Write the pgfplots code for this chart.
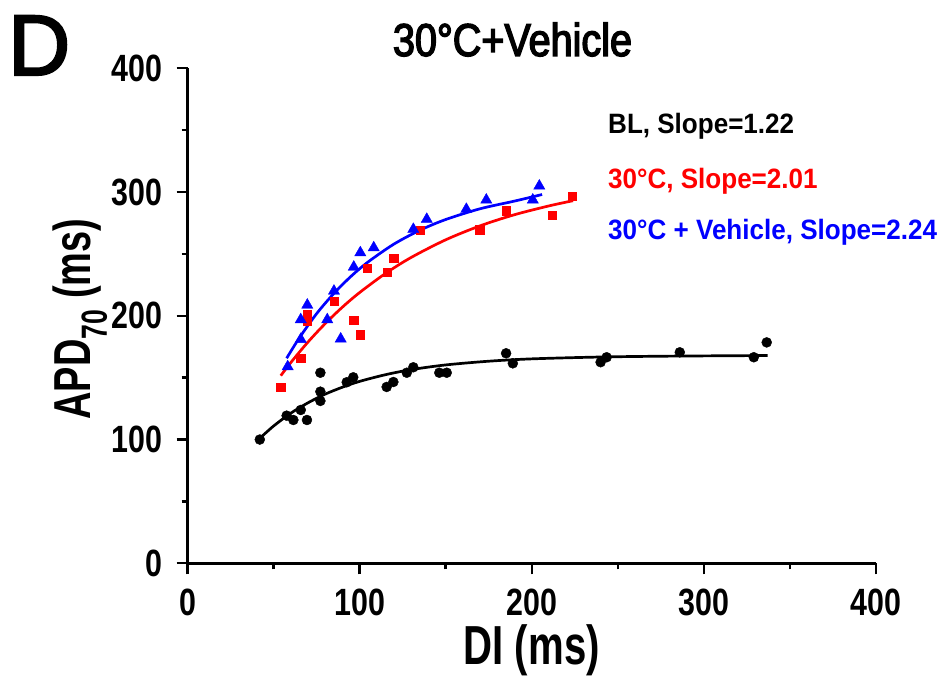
\documentclass[border=0pt]{standalone}
\usepackage{pgfplots}
\pgfplotsset{compat=1.18}
\usepackage{fontspec}
\setmainfont{Liberation Sans}
\newfontfamily\tickfont[FakeStretch=0.8]{Liberation Sans Bold}
\newfontfamily\labfont[FakeStretch=0.73]{Liberation Sans Bold}
\newfontfamily\titfont[FakeStretch=0.86, FakeBold=3]{Liberation Sans}
\newfontfamily\legfont[FakeStretch=0.93]{Liberation Sans Bold}
\newfontfamily\panfont[FakeBold=2.5]{Liberation Sans}
\begin{document}
\begin{tikzpicture}
\path[use as bounding box] (0,0) rectangle (944pt,676pt);
\begin{axis}[
  at={(187.5pt,112.7pt)}, anchor=south west,
  scale only axis, width=688.5pt, height=495pt,
  xmin=0, xmax=400, ymin=0, ymax=400,
  axis lines=left,
  axis line style={-, line width=2.7pt},
  x axis line style={-}, y axis line style={-},
  tick align=outside,
  xtick={0,100,...,400}, ytick={0,100,...,400},
  minor xtick={50,150,250,350}, minor ytick={50,150,250,350},
  major tick length=11pt, minor tick length=6pt,
  every tick/.style={black, line width=2.4pt},
  tick label style={font=\tickfont\fontsize{38}{40}\selectfont, inner sep=0pt},
  xticklabel style={yshift=-14pt},
  yticklabel style={xshift=-14pt},
  /pgf/number format/assume math mode=true,
  clip=false,
]
% Baseline (BL)
\addplot[only marks, mark=*, mark size=5pt, black] coordinates {
(42,100) (57.6,119.3) (61.5,115.8) (65.8,123.9) (69.4,115.8)
(77.2,154) (77.2,138.7) (77.2,131.2) (92.5,146.3) (96.3,150.3)
(115.7,142.5) (119.6,146.5) (127.4,154) (131.2,158.4) (146.3,154)
(150.6,154) (185.1,169.7) (189,161.6) (240,162.5) (243.5,166.5)
(286,170.5) (329,166.5) (336.5,178.5)
};
\addplot[smooth, black, line width=2.7pt] coordinates {
(42,101) (50,110.9) (60,121.3) (70,129.7) (80,136.7) (90,142.3)
(100,147.0) (115,152.4) (130,156.5) (150,160.3) (175,163.3)
(200,165.2) (240,166.7) (280,167.4) (337,167.9)
};
% 30 C
\addplot[only marks, mark=square*, mark size=4.2pt, red] coordinates {
(54.2,142.5) (65.8,165.7) (69.4,201) (69.4,196) (85.1,212)
(96.6,196.4) (100.4,184.7) (104.3,238.6) (115.9,235.2) (119.8,246.5)
(135.1,269.3) (169.8,269.6) (185.1,284.9) (212,281.2) (223.6,296.6)
};
\addplot[smooth, red, line width=2.7pt] coordinates {
(54.2,151.6) (60,162.2) (70,178.8) (80,193.7) (90,207.0) (100,218.8)
(115,234.2) (130,247.2) (150,261.4) (170,272.7) (190,281.7)
(210,288.8) (224,293.0)
};
% 30 C + Vehicle
\addplot[only marks, mark=triangle*, mark size=6.5pt, blue] coordinates {
(58.2,158.9) (65.8,181) (65.8,196.9) (69.6,208.7) (81.2,196.9)
(85.1,220) (89,181.3) (96.6,239.4) (100.4,251) (108.2,255)
(131.2,269.9) (139,278) (162,286.1) (173.6,293.6) (200.6,293.6)
(204.4,304.9)
};
\addplot[smooth, blue, line width=2.7pt] coordinates {
(57.6,165.7) (65,182.2) (75,201.7) (85,218.0) (95,231.9) (105,243.6)
(120,258.0) (135,269.1) (150,277.8) (170,286.5) (190,292.7) (206,298)
};
\end{axis}
\node[anchor=base west, inner sep=0pt, font=\panfont\fontsize{86}{90}\selectfont] at (8pt,601pt) {D};
\node[anchor=base, inner sep=0pt, font=\titfont\fontsize{46}{48}\selectfont] at (512.5pt,620pt) {30°C+Vehicle};
\node[rotate=90, anchor=base, inner sep=0pt, font=\labfont\fontsize{52}{54}\selectfont] at (90pt,357pt) {APD\textsubscript{70} (ms)};
\node[anchor=base, inner sep=0pt, font=\labfont\fontsize{55}{57}\selectfont] at (531.75pt,11pt) {DI (ms)};
\node[anchor=base west, inner sep=0pt, font=\legfont\fontsize{28}{30}\selectfont, text=black] at (608pt,542pt) {BL, Slope=1.22};
\node[anchor=base west, inner sep=0pt, font=\legfont\fontsize{28}{30}\selectfont, text=red] at (608pt,487pt) {30°C, Slope=2.01};
\node[anchor=base west, inner sep=0pt, font=\legfont\fontsize{28}{30}\selectfont, text=blue] at (608pt,436pt) {30°C + Vehicle, Slope=2.24};
\end{tikzpicture}
\end{document}
